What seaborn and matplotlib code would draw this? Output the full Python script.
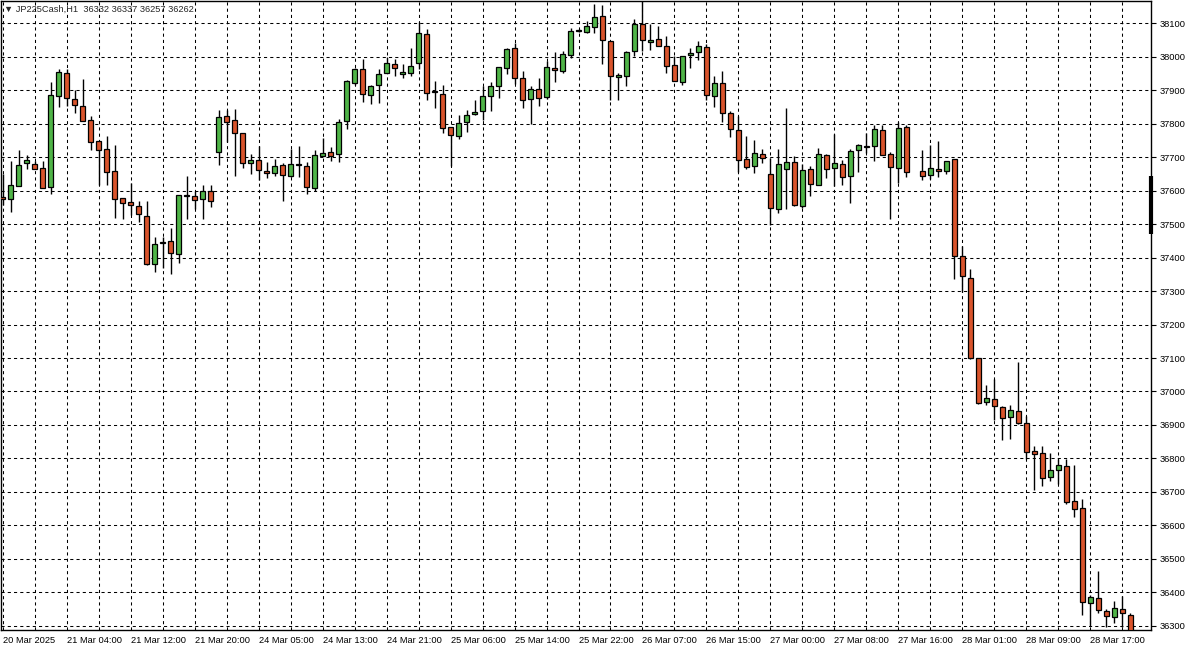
import numpy as np
import pandas as pd
import matplotlib
matplotlib.use("Agg")
import matplotlib.pyplot as plt
import seaborn as sns

# JP225Cash H1 (slot 114 vazio)
opens = [37582, 37576, 37614, 37684, 37681, 37669, 37612, 37882, 37951, 37873,
         37852, 37810, 37747, 37723, 37660, 37579, 37567, 37555, 37525, 37380,
         37445, 37449, 37410, 37585, 37583, 37575, 37599, 37715, 37824, 37812,
         37773, 37683, 37692, 37659, 37653, 37677, 37645, 37676, 37675, 37609,
         37702, 37714, 37708, 37807, 37923, 37962, 37887, 37917, 37950, 37977,
         37947, 37950, 37980, 38067, 37895, 37890, 37791, 37764, 37806, 37829,
         37839, 37884, 37914, 37965, 38025, 37935, 37875, 37905, 37881, 37965,
         37956, 38004, 38077, 38075, 38088, 38121, 38046, 37939, 37942, 38016,
         38097, 38043, 38052, 38031, 37975, 37924, 38004, 38013, 38028, 37883,
         37922, 37832, 37781, 37695, 37674, 37710, 37650, 37545, 37665, 37686,
         37554, 37665, 37617, 37707, 37668, 37680, 37645, 37720, 37731, 37732,
         37780, 37708, 37669, 37789, np.nan, 37660, 37648, 37666, 37660, 37696,
         37406, 37340, 37101, 36969, 36978, 36954, 36924, 36942, 36906, 36823,
         36817, 36745, 36766, 36778, 36674, 36653, 36369, 36384, 36343, 36325,
         36351, 36332]
highs = [37650, 37688, 37722, 37706, 37688, 37688, 37925, 37963, 37962, 37900,
         37934, 37822, 37747, 37762, 37735, 37579, 37624, 37570, 37570, 37462,
         37462, 37489, 37587, 37644, 37600, 37617, 37617, 37840, 37840, 37845,
         37773, 37710, 37734, 37686, 37695, 37683, 37725, 37732, 37687, 37720,
         37756, 37729, 37814, 37932, 37966, 37993, 37917, 37962, 38000, 37992,
         37977, 38025, 38105, 38082, 37927, 37917, 37791, 37827, 37840, 37870,
         37913, 37926, 37968, 38027, 38041, 37956, 37914, 37935, 37986, 38013,
         38016, 38085, 38082, 38106, 38157, 38154, 38046, 37951, 38016, 38112,
         38170, 38097, 38091, 38061, 38001, 38001, 38025, 38046, 38039, 37943,
         37958, 37838, 37823, 37763, 37752, 37725, 37698, 37725, 37847, 37704,
         37680, 37674, 37728, 37710, 37769, 37692, 37723, 37738, 37771, 37795,
         37795, 37714, 37804, 37795, np.nan, 37720, 37735, 37747, 37690, 37696,
         37436, 37367, 37101, 37020, 37037, 36957, 36960, 37088, 36927, 36838,
         36838, 36817, 36799, 36799, 36781, 36680, 36392, 36464, 36349, 36375,
         36390, 36337]
lows = [37556, 37536, 37614, 37666, 37666, 37609, 37590, 37851, 37852, 37833,
        37807, 37720, 37618, 37617, 37518, 37516, 37528, 37506, 37378, 37358,
        37368, 37352, 37384, 37514, 37544, 37516, 37552, 37678, 37745, 37643,
        37667, 37650, 37632, 37637, 37643, 37569, 37640, 37642, 37591, 37599,
        37702, 37689, 37686, 37785, 37915, 37864, 37860, 37862, 37950, 37941,
        37935, 37941, 37962, 37872, 37847, 37773, 37673, 37754, 37774, 37826,
        37811, 37838, 37877, 37948, 37920, 37847, 37800, 37854, 37875, 37925,
        37950, 37996, 38074, 38072, 38070, 37978, 37871, 37871, 37914, 38001,
        38016, 38019, 38031, 37951, 37927, 37915, 37966, 37990, 37871, 37849,
        37805, 37759, 37656, 37665, 37653, 37683, 37498, 37533, 37545, 37554,
        37548, 37584, 37617, 37638, 37614, 37617, 37564, 37656, 37711, 37690,
        37705, 37514, 37622, 37642, np.nan, 37633, 37636, 37642, 37651, 37336,
        37298, 37098, 36964, 36960, 36915, 36855, 36858, 36903, 36799, 36706,
        36718, 36733, 36724, 36665, 36626, 36331, 36300, 36337, 36295, 36307,
        36295, 36257]
closes = [37574, 37618, 37678, 37691, 37666, 37609, 37885, 37954, 37876, 37855,
          37807, 37744, 37720, 37657, 37576, 37564, 37558, 37531, 37381, 37442,
          37444, 37413, 37587, 37584, 37572, 37600, 37569, 37821, 37805, 37773,
          37683, 37692, 37662, 37653, 37674, 37647, 37681, 37677, 37612, 37705,
          37711, 37704, 37804, 37927, 37962, 37890, 37914, 37947, 37980, 37965,
          37953, 37971, 38070, 37893, 37894, 37787, 37767, 37802, 37827, 37836,
          37884, 37914, 37968, 38023, 37935, 37872, 37905, 37878, 37968, 37959,
          38007, 38076, 38078, 38091, 38118, 38049, 37942, 37945, 38013, 38097,
          38049, 38049, 38031, 37972, 37927, 38001, 38010, 38031, 37886, 37922,
          37832, 37784, 37692, 37671, 37713, 37698, 37548, 37680, 37686, 37557,
          37662, 37620, 37710, 37665, 37683, 37641, 37717, 37735, 37732, 37783,
          37705, 37672, 37786, 37657, np.nan, 37645, 37669, 37660, 37690, 37406,
          37346, 37100, 36967, 36981, 36957, 36921, 36945, 36906, 36820, 36814,
          36742, 36766, 36781, 36671, 36650, 36372, 36387, 36346, 36328, 36354,
          36337, 36262]

time_labels = ['20 Mar 2025', '21 Mar 04:00', '21 Mar 12:00', '21 Mar 20:00',
               '24 Mar 05:00', '24 Mar 13:00', '24 Mar 21:00', '25 Mar 06:00',
               '25 Mar 14:00', '25 Mar 22:00', '26 Mar 07:00', '26 Mar 15:00',
               '27 Mar 00:00', '27 Mar 08:00', '27 Mar 16:00', '28 Mar 01:00',
               '28 Mar 09:00', '28 Mar 17:00']
price_ticks = list(range(36300, 38101, 100))
title_text = '\u25bc JP225Cash,H1  36332 36337 36257 36262'

BULL = '#4fb447'
BEAR = '#d9542c'

df = pd.DataFrame({'open': opens, 'high': highs, 'low': lows, 'close': closes})
df['slot'] = np.arange(len(df))
df = df.dropna()

sns.set_style("white")
plt.rcParams['font.family'] = ['Liberation Sans', 'DejaVu Sans']

W, H = 1189, 648
fig = plt.figure(figsize=(W / 100, H / 100), dpi=100)
ax = fig.add_axes([0.5 / W, 1 - 629.5 / H, 1150.5 / W, 629.0 / H])

# pavios
ax.vlines(df['slot'], df['low'], df['high'], color='black', linewidth=1.0, zorder=3)

# corpos
bottom = df[['open', 'close']].min(axis=1)
height = (df['close'] - df['open']).abs().clip(lower=2.5)
colors = np.where(df['close'] > df['open'], BULL,
                  np.where(df['close'] < df['open'], BEAR, 'black'))
ax.bar(df['slot'], height, bottom=bottom, width=0.62, color=colors,
       edgecolor='black', linewidth=0.9, zorder=4)

ax.set_xlim(-0.29, 143.6)
ax.set_ylim(36289, 38168)

# eixo X
ax.set_xticks(np.arange(0, 8 * len(time_labels), 8))
ax.set_xticklabels(time_labels, ha='left', fontsize=6.7)
ax.set_xticks(np.arange(4, 144, 8), minor=True)
ax.tick_params(axis='x', which='major', direction='out', length=3.5, width=0.8,
               pad=1.5, colors='black')
ax.tick_params(axis='x', which='minor', length=0)

# eixo Y à direita
ax.yaxis.tick_right()
ax.set_yticks(price_ticks)
ax.set_yticklabels([str(p) for p in price_ticks], fontsize=6.7)
ax.tick_params(axis='y', direction='out', length=3.5, width=0.8, pad=3, colors='black')

grid_kw = dict(color='black', linewidth=0.75, linestyle=(0, (3, 3)), zorder=1)
ax.grid(True, which='major', axis='both', **grid_kw)
ax.grid(True, which='minor', axis='x', **grid_kw)

for sp in ax.spines.values():
    sp.set_color('black')
    sp.set_linewidth(1.0)

# marcador na escala de preço
ax.plot([1.0, 1.0], [37470, 37645], transform=ax.get_yaxis_transform(),
        color='black', linewidth=3, clip_on=False, zorder=6, solid_capstyle='butt')

fig.text(4 / W, 1 - 9 / H, title_text, fontsize=6.7, va='center', ha='left',
         family=['Liberation Sans', 'DejaVu Sans'])

fig.savefig('out.png', dpi=100)
plt.close()
